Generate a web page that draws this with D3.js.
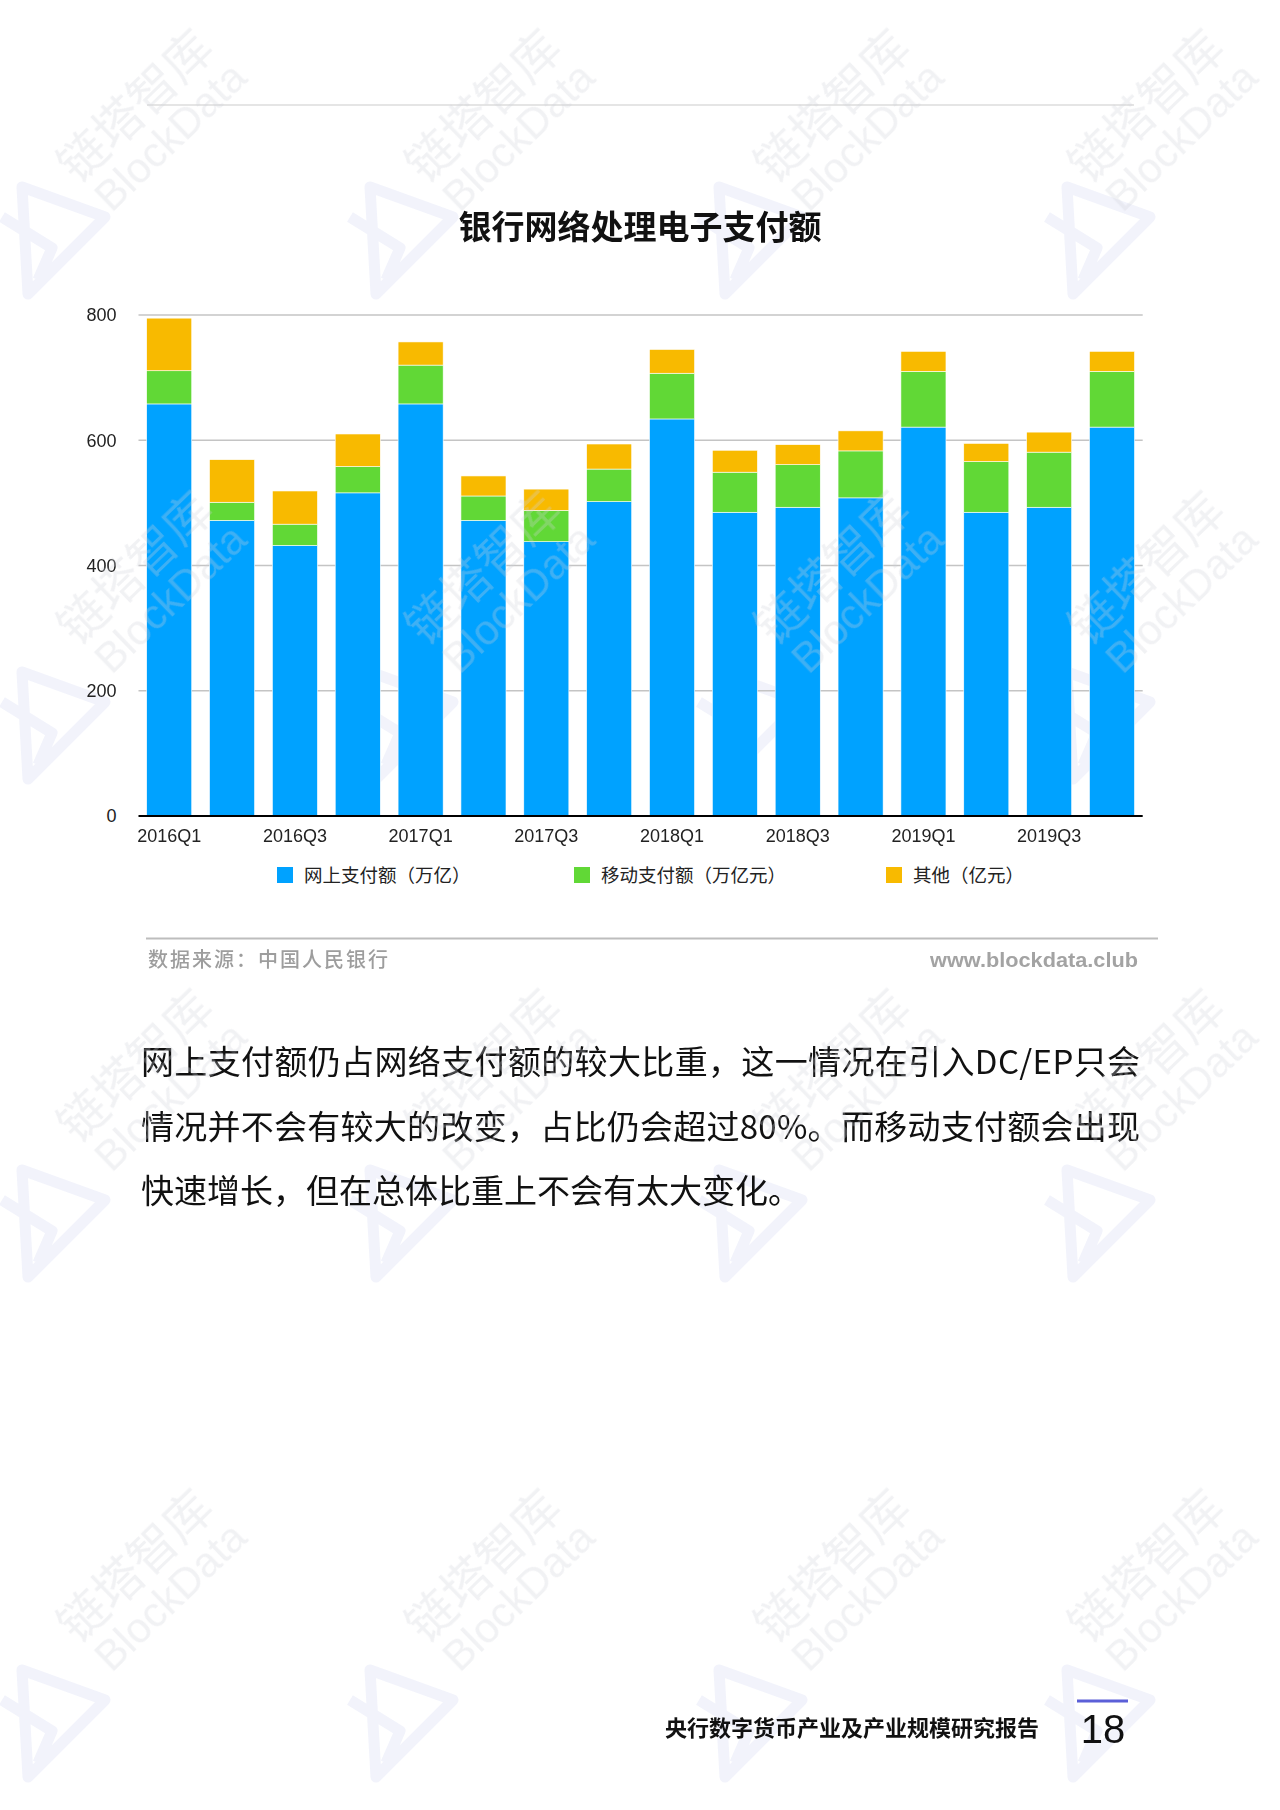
<!DOCTYPE html>
<html><head><meta charset="utf-8">
<script src="https://cdn.jsdelivr.net/npm/d3@7"></script>
<style>html,body{margin:0;padding:0;background:#fff;} svg{display:block}</style>
</head><body><svg id="c" width="1280" height="1810"></svg>
<script>
// ---- data ----
const categories = ["2016Q1","2016Q2","2016Q3","2016Q4","2017Q1","2017Q2","2017Q3","2017Q4",
                    "2018Q1","2018Q2","2018Q3","2018Q4","2019Q1","2019Q2","2019Q3","2019Q4"];
const online = [658,472,432,516,658,472,438,502,634,485,493,508,621,485,493,621];
const mobile = [53,29,34,42,62,39,50,52,73,64,68,75,89,81,88,89];
const other  = [84,68,53,52,37,32,34,40,38,35,32,32,32,29,32,32];
const yTicks = [0,200,400,600,800];
const xTickLabels = ["2016Q1","2016Q3","2017Q1","2017Q3","2018Q1","2018Q3","2019Q1","2019Q3"];
const seriesKeys = ["online","mobile","other"];
const seriesNames = ["网上支付额（万亿）","移动支付额（万亿元）","其他（亿元）"];
const seriesColors = ["#00A2FF","#61D836","#F8BA00"];
const chartTitle = "银行网络处理电子支付额";
const sourceText = "数据来源：中国人民银行";
const siteText = "www.blockdata.club";
const bodyLines = ["网上支付额仍占网络支付额的较大比重，这一情况在引入DC/EP只会",
                   "情况并不会有较大的改变，占比仍会超过80%。而移动支付额会出现",
                   "快速增长，但在总体比重上不会有太大变化。"];
const footerText = "央行数字货币产业及产业规模研究报告";
const pageNum = "18";

// ---- drawing ----
const svg = d3.select("#c");
const CJK = "'Noto Sans CJK SC','Noto Sans',sans-serif";
const LAT = "'Liberation Sans',Arial,'Noto Sans CJK SC',sans-serif";

const rows = categories.map((c,i)=>({cat:c, online:online[i], mobile:mobile[i], other:other[i]}));
const stacked = d3.stack().keys(seriesKeys)(rows);

const x = d3.scaleBand().domain(categories).range([138.5,1142.7]).paddingInner(0.283).paddingOuter(0.13);
const y = d3.scaleLinear().domain([0,800]).range([816,315]);

// watermark logos (behind content)
const wmCols = [147,495,844,1158];
const wmRows = [118,580,1078,1578];
const logoRows = [95,580,1078,1578];
const wl = svg.append("g").attr("opacity",0.22).attr("pointer-events","none");
logoRows.forEach(ry=>wmCols.forEach((cx,ci)=>{
  const lx = (ci===3?1192:cx)-147, ly = ry-83;
  wl.append("path").attr("transform",`translate(${lx},${ly})`)
    .attr("d","M22,175 L105,205 L28,282 Z M2,205 L52,236 L38,268")
    .attr("fill","none").attr("stroke","#c3c9ee").attr("stroke-width",11).attr("stroke-linejoin","round");
}));

// top rule
svg.append("line").attr("x1",147).attr("x2",1134).attr("y1",105).attr("y2",105)
  .attr("stroke","#dcdcdc").attr("stroke-width",1.5);

// title
svg.append("text").attr("x",640).attr("y",239).attr("text-anchor","middle")
  .attr("font-family",CJK).attr("font-weight",700).attr("font-size",33).attr("fill","#111")
  .text(chartTitle);

// gridlines
svg.append("g").selectAll("line").data(yTicks.filter(d=>d>0)).join("line")
  .attr("x1",x.range()[0]).attr("x2",x.range()[1])
  .attr("y1",d=>y(d)).attr("y2",d=>y(d))
  .attr("stroke","#c4c4c4").attr("stroke-width",1.5);

// y axis
const yAxis = svg.append("g").attr("transform","translate(138.5,0)")
  .call(d3.axisLeft(y).tickValues(yTicks).tickSize(0).tickPadding(22).tickFormat(d3.format("d")));
yAxis.select(".domain").remove();
yAxis.selectAll("text").attr("font-family",LAT).attr("font-size",18).attr("fill","#222");

// bars
svg.append("g").selectAll("g").data(stacked).join("g")
  .attr("fill",(d,i)=>seriesColors[i])
  .selectAll("rect").data(d=>d).join("rect")
  .attr("x",d=>x(d.data.cat)).attr("width",x.bandwidth())
  .attr("y",d=>y(d[1])).attr("height",d=>y(d[0])-y(d[1]))
  .attr("stroke","#ffffff").attr("stroke-width",0.6);

// x axis
const xAxis = svg.append("g").attr("transform","translate(0,816)")
  .call(d3.axisBottom(x).tickSize(0).tickPadding(13)
    .tickFormat(d=>xTickLabels.includes(d)?d:""));
xAxis.select(".domain").attr("stroke","#000").attr("stroke-width",2)
  .attr("d",`M${x.range()[0]},0H${x.range()[1]}`);
xAxis.selectAll("text").attr("font-family",LAT).attr("font-size",18).attr("fill","#222");

// legend
const legendX = [277,574,886];
const lg = svg.append("g").selectAll("g").data(seriesNames).join("g")
  .attr("transform",(d,i)=>`translate(${legendX[i]},867)`);
lg.append("rect").attr("width",16).attr("height",16).attr("fill",(d,i)=>seriesColors[i]);
lg.append("text").attr("x",27).attr("y",15).attr("font-family",CJK).attr("font-size",18.5)
  .attr("fill","#222").text(d=>d);

// source rule & text
svg.append("line").attr("x1",146).attr("x2",1158).attr("y1",938.5).attr("y2",938.5)
  .attr("stroke","#bdbdbd").attr("stroke-width",2);
svg.append("text").attr("x",148).attr("y",967).attr("font-family",CJK).attr("font-size",20)
  .attr("font-weight",500).attr("letter-spacing",2).attr("fill","#9d9d9d").text(sourceText);
svg.append("text").attr("x",1138).attr("y",967).attr("text-anchor","end").attr("font-family",LAT)
  .attr("font-size",21).attr("font-weight",700).attr("fill","#a3a3a3")
  .attr("textLength",208).attr("lengthAdjust","spacingAndGlyphs").text(siteText);

// paragraph
svg.append("g").selectAll("text").data(bodyLines).join("text")
  .attr("x",141).attr("y",(d,i)=>1074+i*64.5)
  .attr("font-family",CJK).attr("font-size",33).attr("fill","#111")
  .each(function(d,i){ if(i<2) d3.select(this).attr("textLength",999).attr("lengthAdjust","spacing"); })
  .text(d=>d);

// footer
svg.append("text").attr("x",1039).attr("y",1736).attr("text-anchor","end")
  .attr("font-family",CJK).attr("font-weight",700).attr("font-size",22).attr("fill","#111").text(footerText);
svg.append("line").attr("x1",1077).attr("x2",1128).attr("y1",1701).attr("y2",1701)
  .attr("stroke","#5b5fd8").attr("stroke-width",3);
svg.append("text").attr("x",1103).attr("y",1743).attr("text-anchor","middle")
  .attr("font-family",LAT).attr("font-size",40).attr("fill","#111").text(pageNum);

// watermark text (faint, on top)
const wm = svg.append("g").attr("opacity",0.3).attr("pointer-events","none");
wmRows.forEach(ry=>wmCols.forEach(cx=>{
  const g = wm.append("g").attr("transform",`translate(${cx},${ry}) rotate(-44)`);
  g.append("text").attr("text-anchor","middle").attr("y",0).attr("font-family",CJK)
    .attr("font-size",48).attr("font-weight",400).attr("fill","#d0d2da").text("链塔智库");
  g.append("text").attr("text-anchor","middle").attr("x",4).attr("y",44).attr("font-family",LAT)
    .attr("font-size",42).attr("fill","#d0d2da").text("BlockData");
}));
</script></body></html>
